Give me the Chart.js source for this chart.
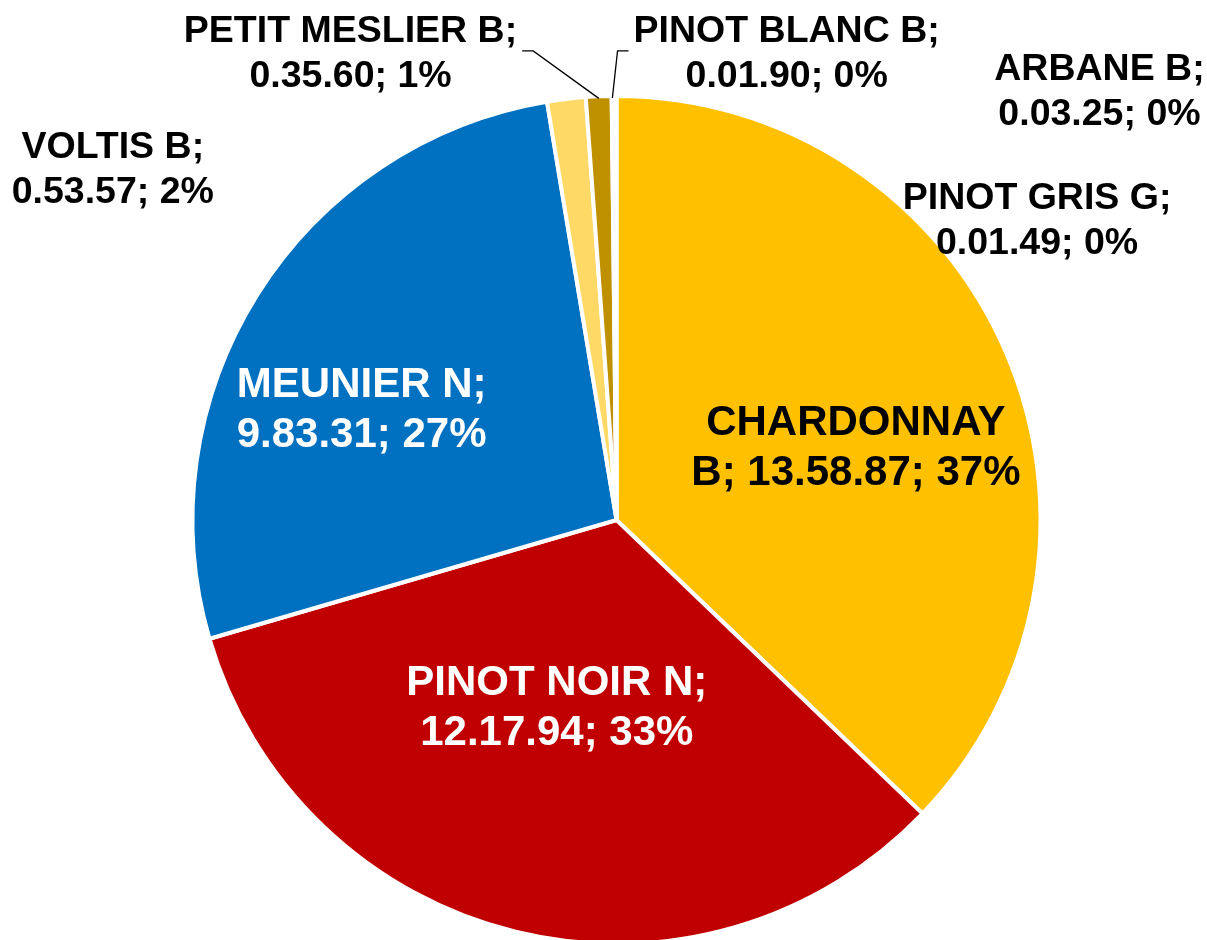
<!DOCTYPE html>
<html>
<head>
    <title>Cépages</title>
    <meta charset="UTF-8">
    <script src="https://cdn.jsdelivr.net/npm/chart.js@4.4.1/dist/chart.umd.min.js"></script>
    <style>
        html, body { margin: 0; padding: 0; background: #fff; overflow: hidden; }
    </style>
</head>
<body>
<canvas id="myChart" width="1207" height="950"></canvas>
<script>
    // surfaces in ha (printed as ha.ares.centiares)
    const grapes = ['CHARDONNAY B', 'PINOT NOIR N', 'MEUNIER N', 'VOLTIS B', 'PETIT MESLIER B', 'PINOT BLANC B', 'ARBANE B', 'PINOT GRIS G'];
    const areas = [13.5887, 12.1794, 9.8331, 0.5357, 0.3560, 0.0190, 0.0325, 0.0149];
    const areaText = ['13.58.87', '12.17.94', '9.83.31', '0.53.57', '0.35.60', '0.01.90', '0.03.25', '0.01.49'];
    const shares = [37, 33, 27, 2, 1, 0, 0, 0];
    const colors = ['#FFC000', '#C00000', '#0070C0', '#FFD966', '#BF9000', '#70AD47', '#9DC3E6', '#F4B183'];

    // where each label sits: angle clockwise from top (deg), distance as part of the radius
    const placement = [
        {angle: 72.5, dist: 0.592, big: true, color: '#000', breakAt: 1},
        {angle: 197.9, dist: 0.458, big: true, color: '#fff'},
        {angle: 294, dist: 0.658, big: true, color: '#fff'},
        {angle: 305.1, dist: 1.452},
        {angle: 330.5, dist: 1.274, leader: true},
        {angle: 19.9, dist: 1.179, leader: true},
        {angle: 48.2, dist: 1.528},
        {angle: 54.2, dist: 1.223}
    ];

    function labelLines(i) {
        const words = (grapes[i] + '; ' + areaText[i] + '; ' + shares[i] + '%').split(' ');
        const cut = placement[i].breakAt || grapes[i].split(' ').length;
        return [words.slice(0, cut).join(' '), words.slice(cut).join(' ')];
    }

    const sliceLabels = {
        id: 'sliceLabels',
        afterDatasetsDraw(chart) {
            const c = chart.ctx;
            const arcs = chart.getDatasetMeta(0).data;
            c.save();
            c.textAlign = 'center';
            c.textBaseline = 'middle';
            arcs.forEach((arc, i) => {
                const p = placement[i];
                const {x, y, outerRadius, startAngle, endAngle} = arc.getProps(['x', 'y', 'outerRadius', 'startAngle', 'endAngle'], true);
                const a = p.angle * Math.PI / 180;
                const cx = x + Math.sin(a) * p.dist * outerRadius;
                const cy = y - Math.cos(a) * p.dist * outerRadius + 4;
                const size = p.big ? 42 : 37.5;
                const lh = p.big ? 50 : 45;
                c.font = 'bold ' + size + 'px "Liberation Sans", Arial, sans-serif';
                c.fillStyle = p.color || '#000';
                const lines = labelLines(i);
                lines.forEach((t, k) => c.fillText(t, cx, cy + (k - (lines.length - 1) / 2) * lh));
                if (p.leader) {
                    const mid = (startAngle + endAngle) / 2;
                    const px = x + Math.cos(mid) * (outerRadius - 2);
                    const py = y + Math.sin(mid) * (outerRadius - 2);
                    const side = px > cx ? 1 : -1;
                    const half = Math.max(...lines.map(t => c.measureText(t).width)) / 2;
                    const sx = cx + side * (half + 5);
                    const sy = cy - 3;
                    c.beginPath();
                    c.moveTo(sx, sy);
                    c.lineTo(sx + side * 11, sy);
                    c.lineTo(px, py);
                    c.strokeStyle = '#000';
                    c.lineWidth = 1.3;
                    c.stroke();
                }
            });
            c.restore();
        }
    };

    const ctx = document.getElementById('myChart').getContext('2d');
    const myChart = new Chart(ctx, {
        type: 'pie',
        data: {
            labels: grapes,
            datasets: [{
                data: areas,
                backgroundColor: colors,
                borderColor: '#fff',
                borderWidth: 4
            }]
        },
        options: {
            responsive: false,
            animation: false,
            layout: {padding: {top: 94, bottom: 4, left: 26, right: 0}},
            plugins: {
                legend: {display: false},
                tooltip: {enabled: false}
            }
        },
        plugins: [sliceLabels]
    });
</script>
</body>
</html>
